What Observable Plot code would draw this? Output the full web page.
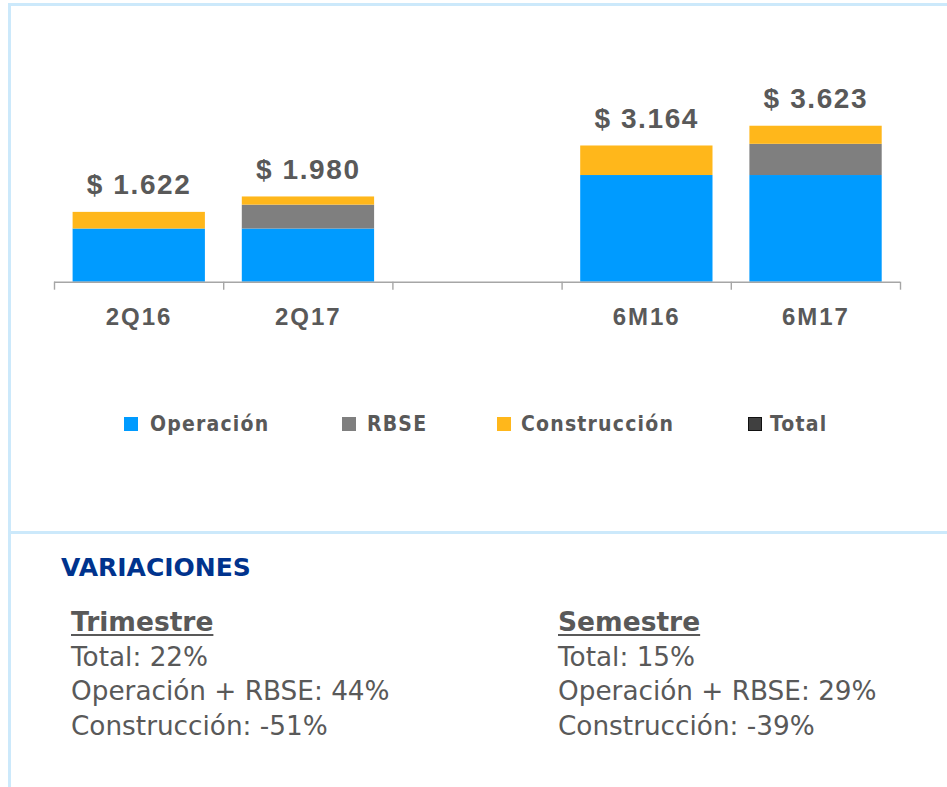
<!DOCTYPE html>
<html>
<head>
<meta charset="utf-8">
<script src="https://cdn.jsdelivr.net/npm/d3@7"></script>
<script src="https://cdn.jsdelivr.net/npm/@observablehq/plot@0.6"></script>
<style>
  html, body { margin: 0; padding: 0; background: #fff; }
  body { width: 947px; height: 787px; position: relative; overflow: hidden; }
  .line { position: absolute; background: #cce9fb; }
  #chart { position: absolute; left: 0; top: 0; }
  #chart g[aria-label="x-axis tick label"] text { font-family: "Liberation Sans", Arial, sans-serif; font-weight: bold; font-size: 24px; letter-spacing: 2px; fill: #595959; }
  #chart g[aria-label="text"] text { font-family: "Liberation Sans", Arial, sans-serif; font-weight: bold; font-size: 28px; letter-spacing: 1.6px; fill: #595959; }
  .leg { position: absolute; top: 412px; height: 24px; font-family: "DejaVu Sans Condensed", "DejaVu Sans", sans-serif; font-weight: bold; font-size: 21px; letter-spacing: 1.2px; color: #595959; line-height: 24px; white-space: nowrap; }
  .sw { position: absolute; top: 417px; width: 14px; height: 14px; }
  .var { position: absolute; left: 61px; top: 553px; font-family: "DejaVu Sans", sans-serif; font-weight: bold; font-size: 25px; line-height: 30px; color: #00338d; white-space: nowrap; }
  .col { position: absolute; top: 605px; font-family: "DejaVu Sans", sans-serif; font-size: 26.3px; line-height: 34.5px; color: #595959; white-space: nowrap; }
  .col .h { font-weight: bold; font-size: 26.5px; text-decoration: underline; text-decoration-thickness: 2px; text-underline-offset: 3px; }
</style>
</head>
<body>
<div class="line" style="left:8px; top:3px; width:939px; height:3px;"></div>
<div class="line" style="left:8px; top:3px; width:3px; height:784px;"></div>
<div class="line" style="left:8px; top:531px; width:939px; height:3px;"></div>
<div id="chart"></div>
<div id="legend"></div>
<div class="var">VARIACIONES</div>
<div class="col" id="colT" style="left:71px;"></div>
<div class="col" id="colS" style="left:558px;"></div>
<script>
// ---- data ----
const categories = ["2Q16", "2Q17", "", "6M16", "6M17"];
const series = ["Operación", "RBSE", "Construcción"];
const seriesColors = ["#009bff", "#7f7f7f", "#ffb71b"];
const operacion = [1235, 1235, null, 2478, 2478];
const rbse = [0, 555, null, 0, 725];
const construccion = [387, 190, null, 686, 420];
const totals = [1622, 1980, null, 3164, 3623];
const totalLabels = ["$ 1.622", "$ 1.980", "", "$ 3.164", "$ 3.623"];
const legendNames = ["Operación", "RBSE", "Construcción", "Total"];
const legendColors = ["#009bff", "#7f7f7f", "#ffb71b", "#404040"];
const trimestre = ["Trimestre", "Total: 22%", "Operación + RBSE: 44%", "Construcción: -51%"];
const semestre = ["Semestre", "Total: 15%", "Operación + RBSE: 29%", "Construcción: -39%"];

// ---- build stacked rows ----
const valuesBySeries = [operacion, rbse, construccion];
const rows = [];
categories.forEach((c, i) => {
  let acc = 0;
  series.forEach((s, k) => {
    const v = valuesBySeries[k][i];
    if (v == null || v === 0) return;
    rows.push({i, category: c, series: s, y1: acc, y2: acc + v});
    acc += v;
  });
});
const totalRows = categories.map((c, i) => ({i, total: totals[i], label: totalLabels[i]})).filter(d => d.total != null);

const chart = Plot.plot({
  width: 947,
  height: 345,
  marginLeft: 54,
  marginRight: 47,
  marginTop: 109.5,
  marginBottom: 63.3,
  x: {domain: [0, categories.length], axis: null, label: null},
  y: {domain: [0, 4000], axis: null, label: null},
  color: {domain: series, range: seriesColors},
  marks: [
    Plot.rectY(rows, {x1: "i", x2: d => d.i + 1, y1: "y1", y2: "y2", fill: "series", insetLeft: 18.6, insetRight: 18.3}),
    Plot.ruleY([0], {stroke: "#a6a6a6", strokeWidth: 1.5}),
    Plot.axisX({ticks: d3.range(categories.length + 1), tickSize: 8, tickFormat: () => "", label: null, stroke: "#a6a6a6", strokeWidth: 1.4}),
    Plot.axisX({ticks: categories.map((c, i) => i + 0.5).filter((v, i) => categories[i] !== ""), tickSize: 0, tickPadding: 26, label: null, tickFormat: v => categories[Math.floor(v)], fontSize: 24, fontWeight: "bold", fill: "#595959"}),
    Plot.text(totalRows, {x: d => d.i + 0.5, y: "total", text: "label", dy: -18, lineAnchor: "bottom", fontSize: 28, fontWeight: "bold", fill: "#595959"})
  ]
});
document.getElementById("chart").appendChild(chart);

// ---- legend ----
const swLeft = [124, 342, 497, 748];
const txLeft = [150, 367, 521, 770];
const legend = document.getElementById("legend");
legendNames.forEach((n, k) => {
  const sw = document.createElement("div");
  sw.className = "sw";
  sw.style.left = swLeft[k] + "px";
  sw.style.background = legendColors[k];
  if (n === "Total") { sw.style.boxSizing = "border-box"; sw.style.border = "1.5px solid #111"; }
  legend.appendChild(sw);
  const t = document.createElement("div");
  t.className = "leg";
  t.style.left = txLeft[k] + "px";
  t.textContent = n;
  legend.appendChild(t);
});

// ---- variations text ----
function fillCol(id, lines) {
  const el = document.getElementById(id);
  lines.forEach((l, j) => {
    const d = document.createElement("div");
    if (j === 0) { const s = document.createElement("span"); s.className = "h"; s.textContent = l; d.appendChild(s); }
    else d.textContent = l;
    el.appendChild(d);
  });
}
fillCol("colT", trimestre);
fillCol("colS", semestre);
</script>
</body>
</html>
